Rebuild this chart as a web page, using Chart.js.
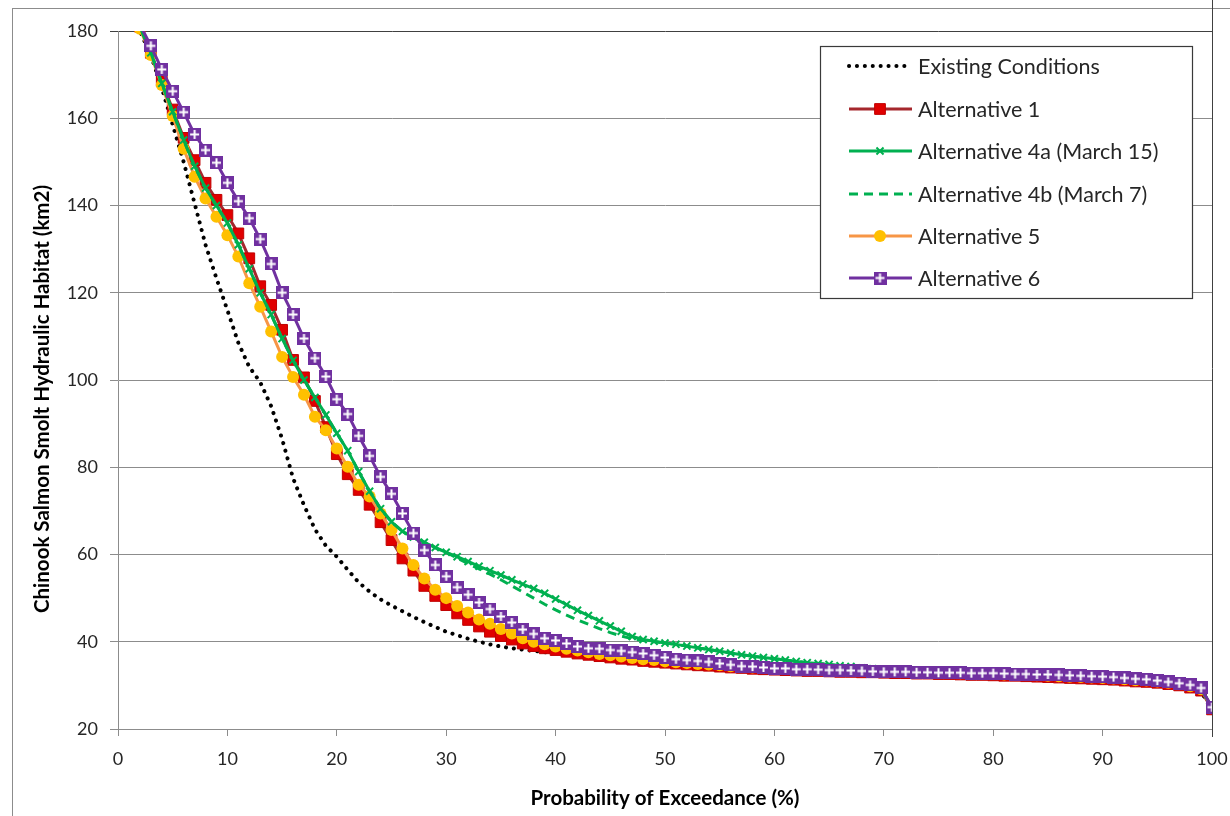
<!DOCTYPE html>
<html>
<head>
<meta charset="utf-8">
<script src="https://cdn.jsdelivr.net/npm/chart.js@4.4.0/dist/chart.umd.min.js"></script>
<style>
  html, body { margin: 0; padding: 0; background: #fff; }
  #wrap { position: relative; width: 1230px; height: 816px; }
</style>
</head>
<body>
<div id="wrap"><canvas id="habitatChart" width="1230" height="816"></canvas></div>
<script>
// exceedance probability (%) for each ranked value
const pct = Array.from({ length: 100 }, (_, i) => i + 1);

const existing = [186, 180, 174.5, 167, 158.5, 150, 140.5, 131, 123.3, 116,
  108.5, 103, 99.5, 94, 86.5, 77.5, 71.3, 65.8, 62, 59.5,
  56.5, 53.6, 51.5, 49.7, 48.3, 47.0, 45.7, 44.5, 43.4, 42.3,
  41.5, 40.7, 40.0, 39.4, 38.9, 38.5, 38.2, 37.9, 37.6, 37.4,
  37.2, 36.9, 36.6, 36.3, 36.0, 35.8, 35.5, 35.3, 35.1, 34.9,
  34.7, 34.5, 34.3, 34.2, 34.0, 33.9, 33.7, 33.6, 33.5, 33.4,
  33.3, 33.2, 33.1, 33.1, 33.0, 32.9, 32.9, 32.8, 32.8, 32.7,
  32.6, 32.6, 32.5, 32.5, 32.4, 32.4, 32.3, 32.2, 32.2, 32.1,
  32.0, 32.0, 31.9, 31.8, 31.7, 31.6, 31.5, 31.4, 31.3, 31.2,
  31.1, 30.9, 30.7, 30.6, 30.4, 30.1, 29.8, 29.3, 28.6, 24.3];

const alt1 = [186, 181, 175, 168.5, 162, 155.5, 150.4, 145.2, 141.3, 137.8,
  133.6, 127.9, 121.5, 117.2, 111.5, 104.6, 100.6, 95.2, 89.2, 83.0,
  78.4, 74.8, 71.4, 67.4, 63.3, 59.1, 56.3, 52.8, 50.5, 48.4,
  46.5, 45.0, 43.5, 42.3, 41.3, 40.5, 39.6, 39.0, 38.5, 38.1,
  37.7, 37.3, 37.0, 36.7, 36.4, 36.1, 35.9, 35.6, 35.4, 35.2,
  35.0, 34.8, 34.6, 34.5, 34.3, 34.1, 34.0, 33.8, 33.7, 33.6,
  33.5, 33.4, 33.3, 33.3, 33.2, 33.1, 33.1, 33.0, 33.0, 32.9,
  32.8, 32.8, 32.7, 32.7, 32.6, 32.6, 32.5, 32.4, 32.4, 32.3,
  32.2, 32.2, 32.1, 32.0, 31.9, 31.8, 31.7, 31.6, 31.5, 31.4,
  31.3, 31.1, 30.9, 30.8, 30.6, 30.3, 30.0, 29.5, 28.8, 24.5];

const alt4a = [186, 181, 175, 168, 161.5, 155, 149, 144, 140, 136,
  131, 125.5, 120, 115, 109.5, 104.5, 100, 96, 92, 87.8,
  83.8, 79, 74.5, 70.5, 67.5, 65.3, 64, 62.8, 61.6, 60.5,
  59.5, 58.4, 57.3, 56.3, 55.3, 54.2, 53.2, 52.2, 51.1, 49.8,
  48.5, 47.2, 46.0, 44.8, 43.6, 42.4, 41.2, 40.5, 40.1, 39.7,
  39.4, 39.0, 38.6, 38.2, 37.8, 37.4, 37.0, 36.7, 36.4, 36.1,
  35.8, 35.5, 35.2, 35.0, 34.8, 34.5, 34.3, 34.0, 33.8, 33.6,
  33.4, 33.2, 33.0, 32.9, 32.8, 32.8, 32.8, 32.7, 32.7, 32.7,
  32.6, 32.5, 32.5, 32.4, 32.4, 32.3, 32.2, 32.1, 32.0, 31.9,
  31.8, 31.6, 31.4, 31.3, 31.0, 30.7, 30.4, 30.0, 29.3, 24.9];

// 4b runs with 4a except between 31 % and 49 %
const alt4bMid = [59.2, 57.9, 56.7, 55.5, 54.2, 52.8, 51.4, 50.0, 48.6, 47.3,
  46.1, 45.0, 44.0, 43.0, 42.1, 41.3, 40.7, 40.3, 40.0];
const alt4b = alt4a.slice(0, 30).concat(alt4bMid, alt4a.slice(49));

const alt5 = [186, 180.5, 174.5, 167.6, 160.5, 153, 146.6, 141.6, 137.4, 133.2,
  128.3, 122.2, 116.8, 111.1, 105.3, 100.7, 96.6, 91.6, 88.5, 84.3,
  80.1, 76.0, 73.3, 69.4, 65.6, 61.4, 57.6, 54.5, 51.9, 50.0,
  48.2, 46.7, 45.1, 44.1, 42.9, 41.9, 40.8, 40.0, 39.4, 38.9,
  38.4, 38.0, 37.6, 37.2, 36.9, 36.6, 36.3, 36.0, 35.8, 35.5,
  35.3, 35.1, 34.9, 34.8, 34.6, 34.4, 34.3, 34.1, 34.0, 33.9,
  33.8, 33.7, 33.6, 33.6, 33.5, 33.4, 33.4, 33.3, 33.3, 33.2,
  33.1, 33.1, 33.0, 33.0, 32.9, 32.9, 32.8, 32.7, 32.7, 32.6,
  32.5, 32.5, 32.4, 32.3, 32.2, 32.1, 32.0, 31.9, 31.8, 31.7,
  31.6, 31.4, 31.2, 31.1, 30.9, 30.6, 30.3, 29.8, 29.1, 24.8];

const alt6 = [187, 181.5, 176.6, 171.2, 166.2, 161.4, 156.3, 152.7, 149.8, 145.2,
  141.0, 137.1, 132.3, 126.6, 120.0, 115.0, 109.5, 105.0, 100.8, 95.6,
  92.2, 87.2, 82.6, 77.8, 73.9, 69.4, 64.9, 61.0, 57.6, 55.0,
  52.5, 50.8, 49.0, 47.5, 45.8, 44.4, 42.8, 41.8, 40.8, 40.3,
  39.6, 38.9, 38.5, 38.4, 38.1, 37.9, 37.6, 37.3, 36.9, 36.4,
  36.0, 35.8, 35.6, 35.4, 35.0, 34.7, 34.4, 34.3, 34.1, 33.9,
  33.9, 33.7, 33.7, 33.6, 33.5, 33.5, 33.4, 33.3, 33.2, 33.1,
  33.1, 33.1, 33.0, 33.0, 32.9, 32.9, 32.9, 32.8, 32.8, 32.8,
  32.7, 32.6, 32.6, 32.5, 32.5, 32.4, 32.3, 32.2, 32.1, 32.0,
  31.9, 31.7, 31.5, 31.4, 31.1, 30.8, 30.5, 30.1, 29.4, 25.0];

const xTicks = [0, 10, 20, 30, 40, 50, 60, 70, 80, 90, 100];
const yTicks = [20, 40, 60, 80, 100, 120, 140, 160, 180];

const xTitle = "Probability of Exceedance (%)";
const yTitle = "Chinook Salmon Smolt Hydraulic Habitat (km2)";

const FONT = "Lato, 'Open Sans', sans-serif";

// purple square with a white plus, like the Excel marker
const plusSquare = (() => {
  const c = document.createElement("canvas");
  c.width = 13;
  c.height = 13;
  const g = c.getContext("2d");
  g.fillStyle = "#7030A0";
  g.fillRect(0, 0, 13, 13);
  g.strokeStyle = "#ffffff";
  g.lineWidth = 2;
  g.beginPath();
  g.moveTo(6.5, 2); g.lineTo(6.5, 11);
  g.moveTo(2, 6.5); g.lineTo(11, 6.5);
  g.stroke();
  return c;
})();

const toXY = (vals) => vals.map((v, i) => ({ x: pct[i], y: v }));

const datasets = [
  {
    label: "Existing Conditions",
    data: toXY(existing),
    borderColor: "#000000",
    borderWidth: 4,
    borderDash: [0.1, 7.8],
    borderCapStyle: "round",
    pointRadius: 0,
    order: 5,
  },
  {
    label: "Alternative 1",
    data: toXY(alt1),
    borderColor: "#A5272D",
    borderWidth: 3,
    pointStyle: "rect",
    pointRadius: 7.6,
    pointBackgroundColor: "#E00000",
    pointBorderColor: "#C00000",
    pointBorderWidth: 1,
    order: 4,
  },
  {
    label: "Alternative 4a (March 15)",
    data: toXY(alt4a),
    borderColor: "#00B050",
    borderWidth: 3,
    pointStyle: "crossRot",
    pointRadius: 5,
    pointBorderColor: "#00B050",
    pointBorderWidth: 2,
    order: 1,
  },
  {
    label: "Alternative 4b (March 7)",
    data: toXY(alt4b),
    borderColor: "#00B050",
    borderWidth: 3,
    borderDash: [9, 6],
    pointRadius: 0,
    order: 2,
  },
  {
    label: "Alternative 5",
    data: toXY(alt5),
    borderColor: "#F79646",
    borderWidth: 3,
    pointStyle: "circle",
    pointRadius: 6,
    pointBackgroundColor: "#FFC000",
    pointBorderColor: "#FFC000",
    pointBorderWidth: 0,
    order: 3,
  },
  {
    label: "Alternative 6",
    data: toXY(alt6),
    borderColor: "#7030A0",
    borderWidth: 3,
    pointStyle: plusSquare,
    pointRadius: 6.5,
    order: 0,
  },
];

// frame lines, axis titles and the boxed legend inside the plot
const framePlugin = {
  id: "frame",
  beforeDraw(chart) {
    const ctx = chart.ctx;
    ctx.save();
    ctx.strokeStyle = "#8c8c8c";
    ctx.lineWidth = 1;
    ctx.strokeRect(12.5, 8.5, 1240, 830);
    ctx.restore();
  },
  afterDraw(chart) {
    const ctx = chart.ctx;
    const a = chart.chartArea;
    ctx.save();
    ctx.strokeStyle = "#404040";
    ctx.lineWidth = 1;
    ctx.beginPath();
    ctx.moveTo(Math.round(a.right) + 0.5, 0);
    ctx.lineTo(Math.round(a.right) + 0.5, a.bottom + 8);
    ctx.stroke();

    // axis titles
    ctx.fillStyle = "#000000";
    ctx.font = "bold 20.5px " + FONT;
    ctx.textAlign = "center";
    ctx.textBaseline = "middle";
    ctx.fillText(xTitle, (a.left + a.right) / 2, 798);
    ctx.save();
    ctx.translate(42, 399);
    ctx.rotate(-Math.PI / 2);
    ctx.fillText(yTitle, 0, 0);
    ctx.restore();

    // legend box
    const bx = 820.5, by = 46.5, bw = 372, bh = 252;
    ctx.fillStyle = "#ffffff";
    ctx.fillRect(bx, by, bw, bh);
    ctx.strokeStyle = "#3a3a3a";
    ctx.lineWidth = 1.2;
    ctx.strokeRect(bx, by, bw, bh);

    const rows = [66, 109, 151, 194, 236, 278];
    ctx.font = "21.5px " + FONT;
    ctx.textBaseline = "middle";
    ctx.textAlign = "left";
    chart.data.datasets.forEach((ds, i) => {
      const y = rows[i];
      ctx.save();
      ctx.strokeStyle = ds.borderColor;
      ctx.lineWidth = ds.borderWidth;
      ctx.lineCap = ds.borderCapStyle || "butt";
      ctx.setLineDash(ds.borderDash || []);
      ctx.beginPath();
      ctx.moveTo(849, y);
      ctx.lineTo(912, y);
      ctx.stroke();
      ctx.restore();
      if (ds.pointRadius > 0) {
        ctx.save();
        ctx.fillStyle = ds.pointBackgroundColor || ds.borderColor;
        ctx.strokeStyle = ds.pointBorderColor || ds.borderColor;
        ctx.lineWidth = ds.pointBorderWidth || 0;
        Chart.helpers.drawPoint(ctx, {
          pointStyle: ds.pointStyle,
          radius: ds.pointRadius,
          rotation: 0,
          borderWidth: ds.pointBorderWidth || 0,
        }, 880, y);
        ctx.restore();
      }
      ctx.fillStyle = "#262626";
      ctx.fillText(ds.label, 918, y + 1);
    });
    ctx.restore();
  },
};

const canvasElement = document.getElementById("habitatChart");

const config = {
  type: "line",
  data: { datasets },
  options: {
    responsive: false,
    animation: false,
    devicePixelRatio: 1,
    layout: { padding: { top: 31, right: 18, bottom: 0, left: 0 } },
    elements: { line: { tension: 0 } },
    datasets: { line: { clip: 0 } },
    plugins: {
      legend: { display: false },
      tooltip: { enabled: false },
    },
    scales: {
      x: {
        type: "linear",
        min: 0,
        max: 100,
        afterBuildTicks: (scale) => {
          scale.ticks = xTicks.map((v) => ({ value: v }));
        },
        afterFit: (scale) => {
          scale.height = 87;
          scale.paddingLeft = 0;
          scale.paddingRight = 0;
        },
        grid: {
          drawOnChartArea: false,
          drawTicks: true,
          tickLength: 7,
          color: "#8c8c8c",
        },
        border: { color: "#8c8c8c", width: 1 },
        ticks: {
          padding: 12,
          maxRotation: 0,
          font: { family: FONT, size: 18 },
          color: "#262626",
        },
      },
      y: {
        min: 20,
        max: 180,
        afterBuildTicks: (scale) => {
          scale.ticks = yTicks.map((v) => ({ value: v }));
        },
        afterFit: (scale) => {
          scale.width = 118;
          scale.paddingTop = 0;
          scale.paddingBottom = 0;
        },
        grid: {
          color: (c) => (c.tick && c.tick.value === 180 ? "#404040" : "#8c8c8c"),
          tickLength: 8,
          lineWidth: 1,
        },
        border: { color: "#8c8c8c", width: 1 },
        ticks: {
          padding: 12,
          font: { family: FONT, size: 18 },
          color: "#262626",
        },
      },
    },
  },
  plugins: [framePlugin],
};

const habitatChart = new Chart(canvasElement, config);
</script>
</body>
</html>
